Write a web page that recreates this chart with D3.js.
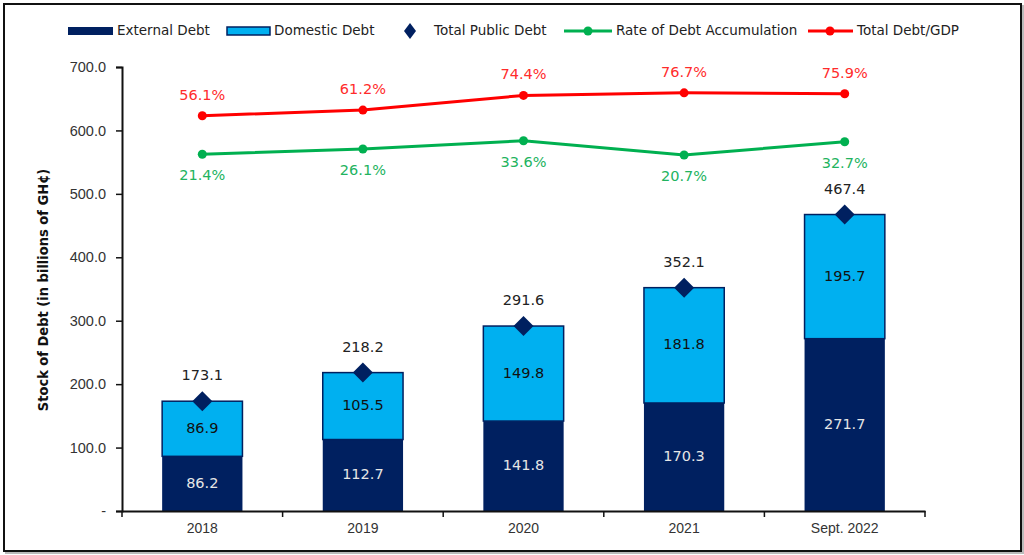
<!DOCTYPE html>
<html>
<head>
<meta charset="utf-8">
<script src="https://cdn.jsdelivr.net/npm/d3@7"></script>
<style>
  body { margin: 0; background: #fff; }
  svg { display: block; font-family: "DejaVu Sans", Verdana, sans-serif; }
</style>
</head>
<body>
<svg></svg>
<script>
// chart values
const years = ['2018', '2019', '2020', '2021', 'Sept. 2022'];
const externalDebt = [86.2, 112.7, 141.8, 170.3, 271.7];
const domesticDebt = [86.9, 105.5, 149.8, 181.8, 195.7];
const totalDebt = [173.1, 218.2, 291.6, 352.1, 467.4];
const accumRate = [21.4, 26.1, 33.6, 20.7, 32.7];
const debtToGdp = [56.1, 61.2, 74.4, 76.7, 75.9];
const yTicks = [0, 100, 200, 300, 400, 500, 600, 700];

const navy = '#002060';
const cyan = '#00b0f0';
const green = '#00b050';
const red = '#ff0000';

const s = {
  width: 1024,
  height: 555,
};

window.onload = () => {

  const svg = d3.select('svg')
      .attr('width', s.width)
      .attr('height', s.height);

  // frame with a faint shadow
  svg.append('rect')
      .attr('x', 6).attr('y', 6)
      .attr('width', 1017).attr('height', 547)
      .attr('fill', 'none')
      .attr('stroke', '#bbb')
      .attr('stroke-width', 2);
  svg.append('rect')
      .attr('x', 4).attr('y', 4)
      .attr('width', 1017).attr('height', 547)
      .attr('fill', '#fff')
      .attr('stroke', '#111')
      .attr('stroke-width', 2);

  const x = d3.scaleBand()
      .domain(years)
      .range([122, 925])
      .padding(0);

  const y = d3.scaleLinear()
      .domain([0, 700])
      .range([511, 67]);

  // hidden secondary axis for the two percentage lines
  const y2 = d3.scaleLinear()
      .domain([-300, 100])
      .range([511, 67]);

  const barW = x.bandwidth() * 0.5;
  const cx = d => x(d) + x.bandwidth() / 2;

  // y axis
  const yAxis = svg.append('g')
      .attr('transform', 'translate(122,0)')
      .call(d3.axisLeft(y)
        .tickValues(yTicks)
        .tickSize(6)
        .tickPadding(10)
        .tickFormat(d => d === 0 ? '-' : d3.format('.1f')(d)));
  yAxis.select('.domain').attr('stroke', '#111').attr('stroke-width', 2);
  yAxis.selectAll('.tick line').attr('stroke', '#111').attr('stroke-width', 1.5);
  yAxis.selectAll('.tick text')
      .attr('fill', '#333')
      .style('font-size', '14.5px');

  svg.append('text')
      .attr('transform', 'translate(44,290) rotate(-90)')
      .attr('text-anchor', 'middle')
      .attr('dominant-baseline', 'middle')
      .attr('fill', '#111')
      .style('font-family', '"DejaVu Sans Condensed", "DejaVu Sans", sans-serif')
      .style('font-weight', 'bold')
      .style('font-size', '14.5px')
      .text('Stock of Debt (in billions of GH¢)');

  // stacked bars
  const bars = svg.append('g');
  bars.selectAll('rect.ext')
    .data(years)
    .join('rect')
      .attr('class', 'ext')
      .attr('x', d => cx(d) - barW / 2)
      .attr('width', barW)
      .attr('y', (d, i) => y(externalDebt[i]))
      .attr('height', (d, i) => y(0) - y(externalDebt[i]))
      .attr('fill', navy);

  bars.selectAll('rect.dom')
    .data(years)
    .join('rect')
      .attr('class', 'dom')
      .attr('x', d => cx(d) - barW / 2)
      .attr('width', barW)
      .attr('y', (d, i) => y(externalDebt[i] + domesticDebt[i]))
      .attr('height', (d, i) => y(externalDebt[i]) - y(externalDebt[i] + domesticDebt[i]))
      .attr('fill', cyan)
      .attr('stroke', navy)
      .attr('stroke-width', 1.5);

  // x axis
  const xAxis = svg.append('g')
      .attr('transform', 'translate(0,511)')
      .call(d3.axisBottom(x).tickSize(0).tickPadding(12));
  xAxis.select('.domain').attr('stroke', '#111').attr('stroke-width', 2);
  xAxis.selectAll('.tick text')
      .attr('fill', '#333')
      .style('font-size', '14px');
  // tick marks at category boundaries
  xAxis.selectAll('line.sep')
    .data(years.concat(['end']))
    .join('line')
      .attr('class', 'sep')
      .attr('x1', (d, i) => x.range()[0] + i * x.step())
      .attr('x2', (d, i) => x.range()[0] + i * x.step())
      .attr('y1', 0)
      .attr('y2', 6)
      .attr('stroke', '#111')
      .attr('stroke-width', 1.5);

  // bar value labels
  const lbl = svg.append('g')
      .style('font-size', '14.5px')
      .attr('text-anchor', 'middle')
      .attr('dominant-baseline', 'middle');

  lbl.selectAll('text.ext')
    .data(years)
    .join('text')
      .attr('x', cx)
      .attr('y', (d, i) => y(externalDebt[i] / 2))
      .attr('fill', '#e6e6e6')
      .text((d, i) => externalDebt[i].toFixed(1));

  lbl.selectAll('text.dom')
    .data(years)
    .join('text')
      .attr('x', cx)
      .attr('y', (d, i) => y(externalDebt[i] + domesticDebt[i] / 2))
      .attr('fill', '#111')
      .text((d, i) => domesticDebt[i].toFixed(1));

  // total public debt diamonds
  const diamond = (hw, hh) => `M0,${-hh}L${hw},0L0,${hh}L${-hw},0Z`;
  svg.append('g').selectAll('path')
    .data(years)
    .join('path')
      .attr('transform', (d, i) => `translate(${cx(d)},${y(totalDebt[i])})`)
      .attr('d', diamond(10, 10))
      .attr('fill', navy);

  lbl.selectAll('text.tot')
    .data(years)
    .join('text')
      .attr('x', cx)
      .attr('y', (d, i) => y(totalDebt[i]) - 25)
      .attr('fill', '#222')
      .text((d, i) => totalDebt[i].toFixed(1));

  // percentage lines
  function drawLine(values, color, labelColor, dy) {
    const pts = years.map((d, i) => [cx(d), y2(values[i])]);
    svg.append('path')
        .attr('d', d3.line()(pts))
        .attr('fill', 'none')
        .attr('stroke', color)
        .attr('stroke-width', 3);
    svg.append('g').selectAll('circle')
      .data(pts)
      .join('circle')
        .attr('cx', p => p[0])
        .attr('cy', p => p[1])
        .attr('r', 4.5)
        .attr('fill', color);
    svg.append('g').selectAll('text')
      .data(pts)
      .join('text')
        .attr('x', p => p[0])
        .attr('y', p => p[1] + dy)
        .attr('text-anchor', 'middle')
        .attr('dominant-baseline', 'middle')
        .attr('fill', labelColor)
        .style('font-size', '14.5px')
        .text((p, i) => values[i].toFixed(1) + '%');
  }
  drawLine(accumRate, green, '#22b35e', 22);
  drawLine(debtToGdp, red, '#ff2b2b', -20);

  // legend
  const leg = svg.append('g')
      .style('font-size', '13.5px')
      .attr('fill', '#222');
  const ly = 31;

  leg.append('rect')
      .attr('x', 68).attr('y', ly - 4)
      .attr('width', 45).attr('height', 8)
      .attr('fill', navy);
  leg.append('text').attr('x', 117).attr('y', ly)
      .attr('dominant-baseline', 'middle').text('External Debt');

  leg.append('rect')
      .attr('x', 227).attr('y', ly - 4)
      .attr('width', 43).attr('height', 8)
      .attr('fill', cyan)
      .attr('stroke', navy)
      .attr('stroke-width', 1.5);
  leg.append('text').attr('x', 274).attr('y', ly)
      .attr('dominant-baseline', 'middle').text('Domestic Debt');

  leg.append('path')
      .attr('transform', `translate(410,${ly})`)
      .attr('d', diamond(6, 8))
      .attr('fill', navy);
  leg.append('text').attr('x', 434).attr('y', ly)
      .attr('dominant-baseline', 'middle').text('Total Public Debt');

  leg.append('line')
      .attr('x1', 564).attr('x2', 612)
      .attr('y1', ly).attr('y2', ly)
      .attr('stroke', green).attr('stroke-width', 3);
  leg.append('circle').attr('cx', 588).attr('cy', ly).attr('r', 4.5).attr('fill', green);
  leg.append('text').attr('x', 616).attr('y', ly)
      .attr('dominant-baseline', 'middle').text('Rate of Debt Accumulation');

  leg.append('line')
      .attr('x1', 808).attr('x2', 853)
      .attr('y1', ly).attr('y2', ly)
      .attr('stroke', red).attr('stroke-width', 3);
  leg.append('circle').attr('cx', 830).attr('cy', ly).attr('r', 4.5).attr('fill', red);
  leg.append('text').attr('x', 857).attr('y', ly)
      .attr('dominant-baseline', 'middle').text('Total Debt/GDP');
};
</script>
</body>
</html>
